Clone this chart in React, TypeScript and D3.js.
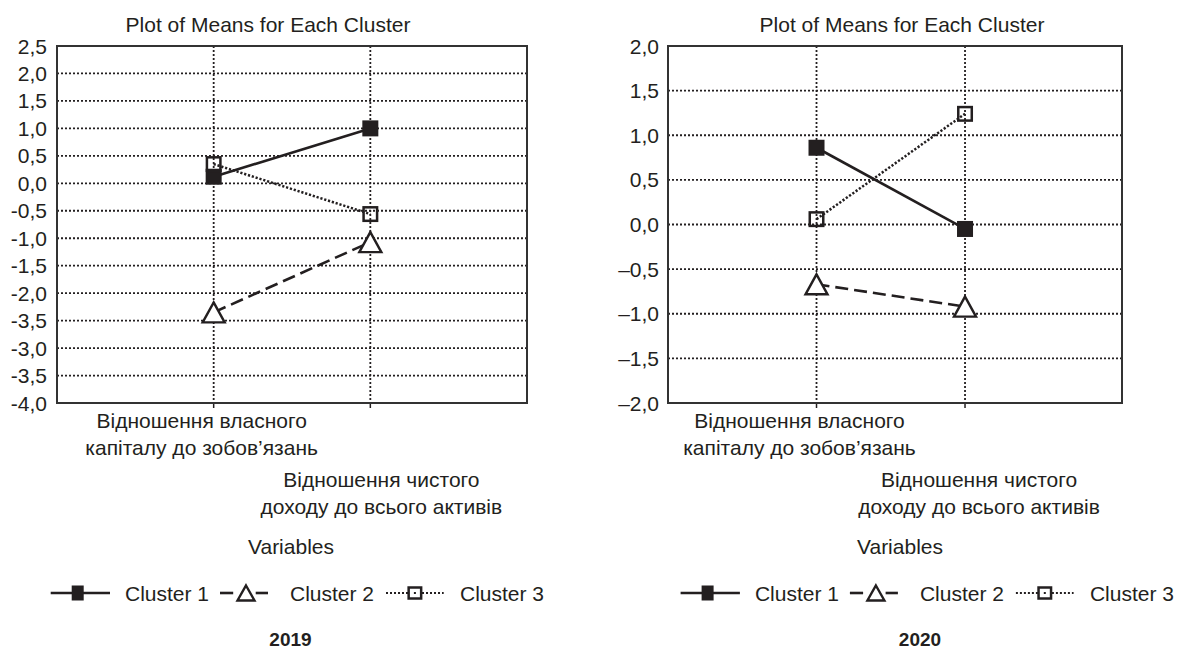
import React from "react";
import * as d3 from "d3";

// ---------- data ----------
const years = ["2019", "2020"];
const clusterNames = ["Cluster 1", "Cluster 2", "Cluster 3"];
const chartTitle = "Plot of Means for Each Cluster";
const axisTitle = "Variables";
const variableLines = [
  ["Відношення власного", "капіталу до зобов’язань"],
  ["Відношення чистого", "доходу до всього активів"],
];

const cluster1_2019 = [0.12, 1.0];
const cluster2_2019 = [-2.35, -1.07];
const cluster3_2019 = [0.35, -0.56];

const cluster1_2020 = [0.86, -0.05];
const cluster2_2020 = [-0.67, -0.92];
const cluster3_2020 = [0.06, 1.24];

const tickValues2019 = [2.5, 2.0, 1.5, 1.0, 0.5, 0.0, -0.5, -1.0, -1.5, -2.0, -2.5, -3.0, -3.5, -4.0];
const tickLabels2019 = ["2,5", "2,0", "1,5", "1,0", "0,5", "0,0", "-0,5", "-1,0", "-1,5", "-2,0", "-3,5", "-3,0", "-3,5", "-4,0"];

const tickValues2020 = [2.0, 1.5, 1.0, 0.5, 0.0, -0.5, -1.0, -1.5, -2.0];
const tickLabels2020 = ["2,0", "1,5", "1,0", "0,5", "0,0", "–0,5", "–1,0", "–1,5", "–2,0"];

// ---------- styling ----------
const FONT = "'Liberation Sans', Arial, Helvetica, sans-serif";
const INK = "#231f20";
const FS = 21;

type PanelCfg = {
  series: number[][];
  tickValues: number[];
  tickLabels: string[];
  year: string;
  x0: number; x1: number; y0: number; y1: number;
  xMax: number;
  tickLabelX: number;
  titleX: number;
  labelDx: number[];
  variablesX: number;
  legendX: number;
  yearX: number;
};

const panels: PanelCfg[] = [
  {
    series: [cluster1_2019, cluster2_2019, cluster3_2019],
    tickValues: tickValues2019,
    tickLabels: tickLabels2019,
    year: years[0],
    x0: 57, x1: 527, y0: 46, y1: 403,
    xMax: 3,
    tickLabelX: 47,
    titleX: 268,
    labelDx: [-12, 11],
    variablesX: 291,
    legendX: 50.7,
    yearX: 290.5,
  },
  {
    series: [cluster1_2020, cluster2_2020, cluster3_2020],
    tickValues: tickValues2020,
    tickLabels: tickLabels2020,
    year: years[1],
    x0: 668, x1: 1122, y0: 46, y1: 403,
    xMax: 3.057,
    tickLabelX: 659,
    titleX: 902,
    labelDx: [-17, 14],
    variablesX: 900,
    legendX: 680.6,
    yearX: 920,
  },
];

const lineStyles = [
  { dash: "none", width: 2.6 },
  { dash: "13 6", width: 2.6 },
  { dash: "2.2 1.8", width: 2.5 },
];

function Marker({ kind, x, y, legend = false }: { kind: number; x: number; y: number; legend?: boolean }) {
  if (kind === 0) {
    const w = legend ? 12 : 16;
    const h = legend ? 15 : 16;
    return <rect x={x - w / 2} y={y - h / 2} width={w} height={h} fill={INK} />;
  }
  if (kind === 1) {
    const hw = legend ? 8.5 : 11;
    const hh = legend ? 7.5 : 10;
    const pts = [[x, y - hh], [x + hw, y + hh], [x - hw, y + hh]];
    return <polygon points={pts.map((p) => p.join(",")).join(" ")} fill="white" stroke={INK} strokeWidth={2.4} strokeLinejoin="miter" />;
  }
  const w = legend ? 12.5 : 13.5;
  const h = legend ? 11 : 13.5;
  return (
    <g>
      <rect x={x - w / 2} y={y - h / 2} width={w} height={h} fill="none" stroke={INK} strokeWidth={2.5} />
      {legend && <rect x={x - 1} y={y - 1} width={2} height={2} fill={INK} />}
    </g>
  );
}

function Panel({ cfg }: { cfg: PanelCfg }) {
  const yDomain = d3.extent(cfg.tickValues) as [number, number];
  const y = d3.scaleLinear().domain(yDomain).range([cfg.y1, cfg.y0]);
  const x = d3.scaleLinear().domain([0, cfg.xMax]).range([cfg.x0, cfg.x1]);
  const catIdx = [1, 2];
  const lineGen = d3
    .line<number>()
    .x((_, i) => x(catIdx[i]))
    .y((d) => y(d));

  const innerTicks = cfg.tickValues.filter((v) => v !== yDomain[0] && v !== yDomain[1]);
  const lx = cfg.legendX;
  const ly = 593;

  return (
    <g fontFamily={FONT} fill={INK}>
      {/* title */}
      <text x={cfg.titleX} y={32} fontSize={FS} textAnchor="middle">{chartTitle}</text>

      {/* horizontal grid */}
      {innerTicks.map((v) => (
        <line key={"h" + v} x1={cfg.x0} x2={cfg.x1} y1={y(v)} y2={y(v)} stroke={INK} strokeWidth={1.8} strokeDasharray="2 2" />
      ))}
      {/* vertical grid + ticks */}
      {catIdx.map((c) => (
        <g key={"v" + c}>
          <line x1={x(c)} x2={x(c)} y1={cfg.y0} y2={cfg.y1} stroke={INK} strokeWidth={1.8} strokeDasharray="2 2" />
          <line x1={x(c)} x2={x(c)} y1={cfg.y1} y2={cfg.y1 + 5} stroke={INK} strokeWidth={1.5} />
        </g>
      ))}
      {/* frame */}
      <rect x={cfg.x0} y={cfg.y0} width={cfg.x1 - cfg.x0} height={cfg.y1 - cfg.y0} fill="none" stroke="#333" strokeWidth={2} />

      {/* y tick labels */}
      {cfg.tickValues.map((v, i) => (
        <text key={"t" + i} x={cfg.tickLabelX} y={y(v) + 7.5} fontSize={FS} textAnchor="end">{cfg.tickLabels[i]}</text>
      ))}

      {/* series */}
      {cfg.series.map((s, k) => (
        <path key={"l" + k} d={lineGen(s) || ""} fill="none" stroke={INK} strokeWidth={lineStyles[k].width} strokeDasharray={lineStyles[k].dash} />
      ))}
      {cfg.series.map((s, k) => (
        <g key={"m" + k}>
          {s.map((v, i) => (
            <Marker key={i} kind={k} x={x(catIdx[i])} y={y(v)} />
          ))}
        </g>
      ))}

      {/* category labels */}
      {variableLines.map((lines, vi) => (
        <g key={"c" + vi}>
          {lines.map((ln, li) => (
            <text key={li} x={x(catIdx[vi]) + cfg.labelDx[vi]} y={(vi === 0 ? 428 : 487) + li * 27} fontSize={FS} textAnchor="middle">{ln}</text>
          ))}
        </g>
      ))}
      <text x={cfg.variablesX} y={554} fontSize={FS} textAnchor="middle">{axisTitle}</text>

      {/* legend */}
      <line x1={lx} x2={lx + 59.3} y1={ly} y2={ly} stroke={INK} strokeWidth={2.6} />
      <Marker kind={0} x={lx + 27} y={ly} legend />
      <text x={lx + 74.3} y={601} fontSize={FS}>{clusterNames[0]}</text>

      <line x1={lx + 169.3} x2={lx + 182.5} y1={ly} y2={ly} stroke={INK} strokeWidth={2.6} />
      <line x1={lx + 205} x2={lx + 217.3} y1={ly} y2={ly} stroke={INK} strokeWidth={2.6} />
      <Marker kind={1} x={lx + 195.3} y={ly} legend />
      <text x={lx + 239.3} y={601} fontSize={FS}>{clusterNames[1]}</text>

      <line x1={lx + 335.3} x2={lx + 393} y1={ly} y2={ly} stroke={INK} strokeWidth={2.2} strokeDasharray="2 2" />
      <rect x={lx + 357.5} y={ly - 7} width={13} height={14} fill="white" />
      <Marker kind={2} x={lx + 364.2} y={ly} legend />
      <text x={lx + 409.3} y={601} fontSize={FS}>{clusterNames[2]}</text>

      {/* year */}
      <text x={cfg.yearX} y={646} fontSize={19} fontWeight="bold" textAnchor="middle">{cfg.year}</text>
    </g>
  );
}

export default function App() {
  return (
    <svg width={1177} height={652} style={{ position: "absolute", left: 0, top: 0, background: "white" }}>
      <rect x={0} y={0} width={1177} height={652} fill="white" />
      {panels.map((p, i) => (
        <Panel key={i} cfg={p} />
      ))}
    </svg>
  );
}
